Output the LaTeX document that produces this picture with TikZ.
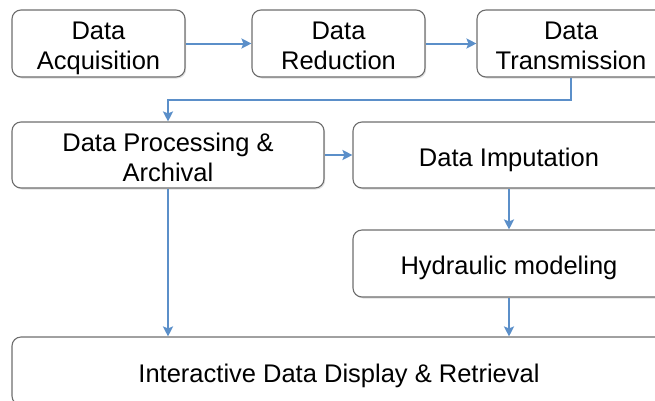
\documentclass[tikz,border=0pt]{standalone}
\usepackage{fontspec}
\setmainfont{Liberation Sans}
\usetikzlibrary{arrows.meta,shadows}
\definecolor{flowblue}{RGB}{91,143,201}
\definecolor{boxgray}{RGB}{110,110,110}
\newcommand{\stagetext}[1]{\raisebox{-5pt}[\height][\depth]{\begin{tabular}{@{}c@{}}#1\end{tabular}}}
\tikzset{
  stagebox/.style={rectangle,draw=boxgray,line width=1.1pt,rounded corners=9pt,fill=white,
    drop shadow={opacity=0.25,shadow xshift=1.2pt,shadow yshift=-1.5pt},
    inner sep=0pt,font=\fontsize{25.5}{30}\selectfont},
  flow/.style={draw=flowblue,line width=2pt,-{Stealth[length=10pt,width=10pt,inset=2pt]}}
}
\begin{document}
\begin{tikzpicture}[x=1pt,y=-1pt]
\useasboundingbox (0,0) rectangle (655,400);
\clip (0,0) rectangle (655,400);
\begin{scope}
\node (ACQ) at (98.5,43.5) [stagebox,minimum width=173pt,minimum height=67pt] {\stagetext{Data\\Acquisition}};
\node (RED) at (338.5,43.5) [stagebox,minimum width=173pt,minimum height=67pt] {\stagetext{Data\\Reduction}};
\node (TRA) at (571,43.5) [stagebox,minimum width=188pt,minimum height=67pt] {\stagetext{Data\\Transmission}};
\node (PRO) at (168,155) [stagebox,minimum width=312pt,minimum height=66pt] {\stagetext{Data Processing \&\\Archival}};
\node (IMP) at (509,155) [stagebox,minimum width=312pt,minimum height=66pt] {\stagetext{Data Imputation}};
\node (HYD) at (509,263.5) [stagebox,minimum width=312pt,minimum height=67pt] {\stagetext{Hydraulic modeling}};
\node (DIS) at (339,371) [stagebox,minimum width=654pt,minimum height=68pt] {\stagetext{Interactive Data Display \& Retrieval}};
\coordinate (TRAbend) at ([yshift=-22pt]TRA.south);
\draw[flow] (ACQ) -- (RED);
\draw[flow] (RED) -- (TRA);
\draw[flow] (TRA.south) -- (TRAbend) -| (PRO.north);
\draw[flow] (PRO) -- (IMP);
\draw[flow] (IMP) -- (HYD);
\draw[flow] (PRO.south) -- (PRO.south |- DIS.north);
\draw[flow] (HYD.south) -- (HYD.south |- DIS.north);
\end{scope}
\end{tikzpicture}
\end{document}
